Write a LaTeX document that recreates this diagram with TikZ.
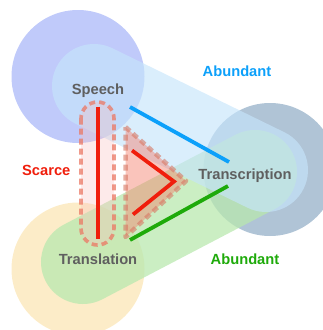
\documentclass[tikz,border=0pt]{standalone}
\usepackage{fontspec}
\setmainfont{Liberation Sans}
\definecolor{circBlue}{RGB}{192,202,250}
\definecolor{circYellow}{RGB}{252,236,200}
\definecolor{circGrey}{RGB}{176,196,214}
\definecolor{capBlue}{RGB}{198,229,251}
\definecolor{capGreen}{RGB}{185,232,175}
\definecolor{pinkFill}{RGB}{250,190,190}
\definecolor{dashRed}{RGB}{235,120,100}
\definecolor{triFill}{RGB}{245,125,105}
\definecolor{triDash}{RGB}{215,120,100}
\definecolor{lineRed}{RGB}{240,30,12}
\definecolor{lineBlue}{RGB}{12,160,250}
\definecolor{lineGreen}{RGB}{30,170,10}
\definecolor{txtGrey}{RGB}{95,95,95}
\tikzset{
  circ/.style={fill=#1, draw=none},
  capsule/.style={line width=84pt, line cap=round, draw=#1},
  lbl/.style={font=\fontsize{14.7}{16}\selectfont\bfseries, text=txtGrey, anchor=base, inner sep=0pt},
  note/.style={font=\fontsize{14.7}{16}\selectfont\bfseries, text=#1, anchor=base, inner sep=0pt},
  redline/.style={draw=lineRed, line width=3.8pt},
  edgeline/.style={draw=#1, line width=3.8pt},
  dashbox/.style={draw=dashRed, draw opacity=0.75, line width=3.6pt, dash pattern=on 6pt off 4pt, fill=pinkFill, fill opacity=0.32},
  dashtri/.style={draw=triDash, draw opacity=0.6, line width=4.5pt, dash pattern=on 6pt off 4pt, fill=triFill, fill opacity=0.45, line join=round}
}
\begin{document}
\begin{tikzpicture}[x=1pt,y=-1pt]
\useasboundingbox (0,0) rectangle (322,330);
% circle centres and capsule ends
\coordinate (cS) at (78,76.5);
\coordinate (cL) at (78,269);
\coordinate (cT) at (270,169.5);
\coordinate (bS) at (94,86);
\coordinate (bT) at (266,170);
\coordinate (gL) at (83,262);
\coordinate (gT) at (255,172);
% background circles
\fill[circ=circBlue] (cS) circle (66.5);
\fill[circ=circYellow] (cL) circle (66.5);
\fill[circ=circGrey] (cT) circle (66.5);
% capsules
\draw[capsule=capGreen, draw opacity=0.75] (gL) -- (gT);
\draw[capsule=capBlue, draw opacity=0.65] (bS) -- (bT);
% dashed shapes
\draw[dashbox, rounded corners=16.5pt] (81,102) rectangle (114,245);
\coordinate (t1) at (125.5,127);
\coordinate (t2) at (186,181);
\coordinate (t3) at (125.5,237);
\draw[dashtri] (t1) -- (t2) -- (t3) -- cycle;
% red lines
\coordinate (v1) at (98,106.5);
\coordinate (v2) at (98,239);
\draw[redline] (v1) -- (v2);
\coordinate (k1) at (132,150.5);
\coordinate (k2) at (174,181.5);
\coordinate (k3) at (133,214.5);
\draw[redline] (k1) -- (k2) -- (k3);
% edge lines
\coordinate (e1) at (130,107);
\coordinate (e2) at (229,162);
\draw[edgeline=lineBlue] (e1) -- (e2);
\coordinate (f1) at (130,240);
\coordinate (f2) at (228,186);
\draw[edgeline=lineGreen] (f1) -- (f2);
% labels
\node[lbl] (speech) at (98,94) {Speech};
\node[lbl] (transcription) at (245,179.3) {Transcription};
\node[lbl] (translation) at (98,264) {Translation};
\node[note=lineRed] (scarce) at (46.3,175) {Scarce};
\node[note=lineBlue] (abundant1) at (237,76.7) {Abundant};
\node[note=lineGreen] (abundant2) at (245,264) {Abundant};
\end{tikzpicture}
\end{document}
